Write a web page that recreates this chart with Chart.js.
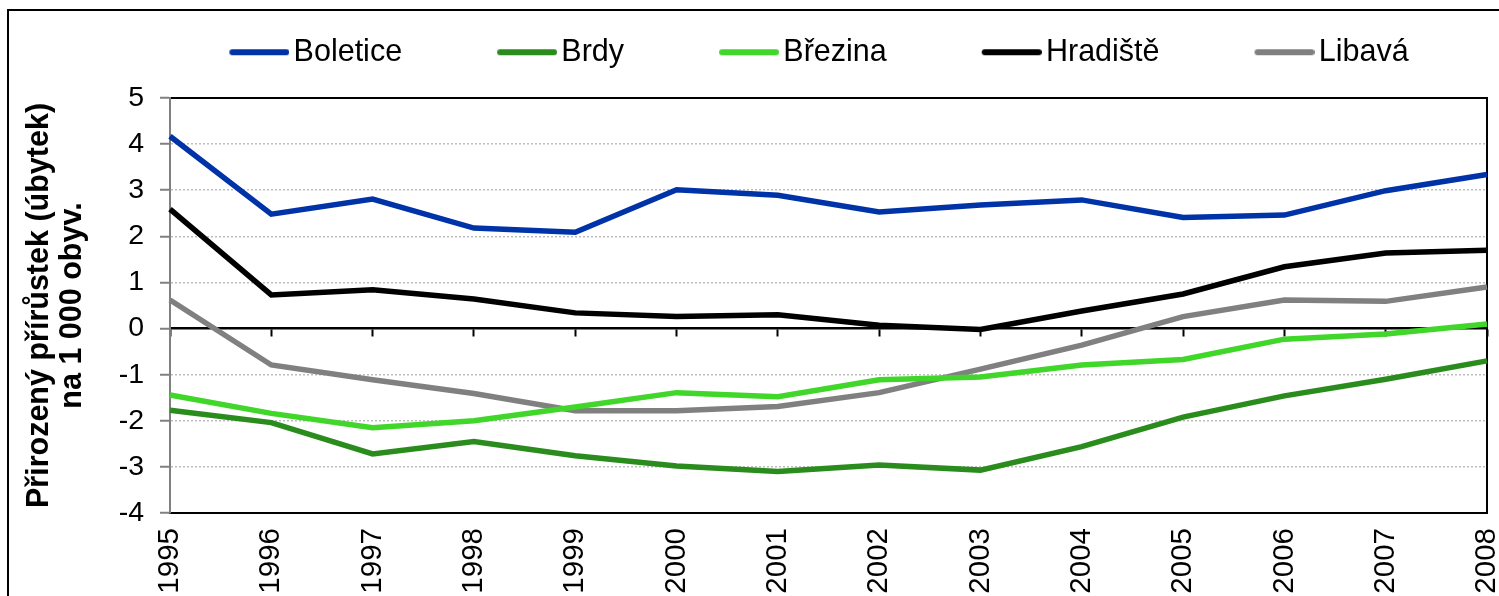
<!DOCTYPE html>
<html>
<head>
<meta charset="utf-8">
<script src="https://cdn.jsdelivr.net/npm/chart.js@4.4.0/dist/chart.umd.min.js"></script>
<style>
html, body { margin: 0; padding: 0; background: #ffffff; }
#wrap { width: 1499px; height: 596px; position: relative; overflow: hidden; }
</style>
</head>
<body>
<div id="wrap"><canvas id="c" width="1499" height="596"></canvas></div>
<script>
// ---- data ----
const years = ['1995','1996','1997','1998','1999','2000','2001','2002','2003','2004','2005','2006','2007','2008'];
const boletice = [4.17, 2.48, 2.81, 2.18, 2.09, 3.01, 2.89, 2.53, 2.68, 2.79, 2.41, 2.46, 2.99, 3.34];
const brdy     = [-1.77, -2.04, -2.72, -2.45, -2.76, -2.98, -3.10, -2.96, -3.07, -2.56, -1.92, -1.46, -1.10, -0.70];
const brezina  = [-1.44, -1.84, -2.15, -2.00, -1.70, -1.39, -1.48, -1.11, -1.05, -0.79, -0.67, -0.23, -0.12, 0.10];
const hradiste = [2.59, 0.73, 0.84, 0.64, 0.34, 0.26, 0.30, 0.07, -0.02, 0.38, 0.75, 1.34, 1.64, 1.70];
const libava   = [0.62, -0.79, -1.11, -1.41, -1.78, -1.78, -1.69, -1.39, -0.88, -0.36, 0.26, 0.62, 0.59, 0.90];
const seriesNames = ['Boletice', 'Brdy', 'Březina', 'Hradiště', 'Libavá'];
const seriesValues = [boletice, brdy, brezina, hradiste, libava];
const seriesColors = ['#0033A8', '#2B8C1E', '#40D62A', '#000000', '#808080'];
const yMin = -4, yMax = 5, yStep = 1;
const yTitle = ['Přirozený přírůstek (úbytek)', 'na 1 000 obyv.'];

Chart.defaults.font.family = "'Liberation Sans', Arial, sans-serif";
Chart.defaults.color = '#000000';

// legend sample: a thick rounded line drawn into a small canvas
const LEG_LEAD = 85;                // blank lead before the line (acts as item spacing)
const LEG_BOX = LEG_LEAD + 49;      // legend box width
const LEG_W = LEG_BOX + 22;         // sample canvas width
function legendLine(color) {
  const c = document.createElement('canvas');
  c.width = LEG_W; c.height = 10;
  const g = c.getContext('2d');
  g.strokeStyle = color; g.lineWidth = 6; g.lineCap = 'round';
  g.beginPath(); g.moveTo(LEG_LEAD + 11 + 3, 5); g.lineTo(LEG_W - 3, 5); g.stroke();
  return c;
}
const legendSamples = seriesColors.map(legendLine);

const frame = {
  id: 'frame',
  beforeDraw(chart) {
    const g = chart.ctx;
    g.save();
    g.strokeStyle = '#000000';
    g.lineWidth = 2;
    g.strokeRect(8, 10, 1700, 800);
    g.restore();
  }
};

const hiddenGridValues = [0, yMin, yMax];

new Chart(document.getElementById('c'), {
  type: 'line',
  data: {
    labels: years,
    datasets: seriesNames.map((name, i) => ({
      label: name,
      data: seriesValues[i],
      borderColor: seriesColors[i],
      backgroundColor: seriesColors[i],
      borderWidth: 5.5,
      pointRadius: 0,
      pointHoverRadius: 0,
      tension: 0,
      fill: false,
      xAxisID: 'x',
      yAxisID: 'y'
    }))
  },
  options: {
    responsive: false,
    animation: false,
    devicePixelRatio: 1,
    layout: { padding: { left: 66, right: 12, top: 27, bottom: 0 } },
    plugins: {
      tooltip: { enabled: false },
      legend: {
        position: 'top',
        align: 'center',
        labels: {
          usePointStyle: true,
          pointStyleWidth: LEG_BOX,
          padding: 10,
          color: '#000000',
          font: { size: 30.5 },
          generateLabels(chart) {
            const items = Chart.defaults.plugins.legend.labels.generateLabels(chart);
            items.forEach((it, i) => { it.pointStyle = legendSamples[i]; it.lineWidth = 0; });
            return items;
          }
        }
      }
    },
    scales: {
      x: {
        type: 'category',
        position: 'bottom',
        offset: false,
        grid: { display: true, drawOnChartArea: false, drawTicks: false },
        border: { display: true, color: '#000000', width: 2 },
        ticks: { minRotation: 90, maxRotation: 90, autoSkip: false, padding: 15, color: '#000000', font: { size: 29.5 } },
        afterFit(s) { s.height = 83; s.paddingLeft = 0; s.paddingRight = 0; }
      },
      xZero: {
        type: 'category',
        position: { y: 0 },
        offset: false,
        grid: { display: true, drawOnChartArea: false, drawTicks: true, tickLength: 7, tickColor: '#000000', tickWidth: 2 },
        border: { display: true, color: '#000000', width: 2.5 },
        ticks: { display: false },
        afterFit(s) { s.height = 0; s.paddingLeft = 0; s.paddingRight = 0; }
      },
      xTop: {
        type: 'category',
        position: 'top',
        offset: false,
        grid: { display: true, drawOnChartArea: false, drawTicks: false },
        border: { display: true, color: '#000000', width: 2 },
        ticks: { display: false },
        afterFit(s) { s.height = 20.5; s.paddingLeft = 0; s.paddingRight = 0; }
      },
      y: {
        type: 'linear',
        position: 'left',
        min: yMin,
        max: yMax,
        ticks: { stepSize: yStep, padding: 16, color: '#000000', font: { size: 28.5 } },
        grid: {
          display: true,
          drawOnChartArea: true,
          color: (c) => (c.tick && hiddenGridValues.includes(c.tick.value)) ? 'rgba(0,0,0,0)' : '#BDBDBD',
          lineWidth: 1.5,
          tickColor: '#808080',
          tickLength: 10,
          tickWidth: 2
        },
        border: { display: true, color: '#808080', width: 2, dash: [2, 2] },
        title: {
          display: true,
          text: yTitle,
          color: '#000000',
          font: { size: 30.5, weight: 'bold', lineHeight: 1.08 },
          padding: { top: -43, bottom: 0 }
        },
        afterFit(s) { s.width = 104; }
      },
      yRight: {
        type: 'linear',
        position: 'right',
        min: yMin,
        max: yMax,
        grid: { display: true, drawOnChartArea: false, drawTicks: false },
        border: { display: true, color: '#000000', width: 2 },
        ticks: { display: false },
        afterFit(s) { s.width = 0; }
      }
    }
  },
  plugins: [frame]
});
</script>
</body>
</html>
